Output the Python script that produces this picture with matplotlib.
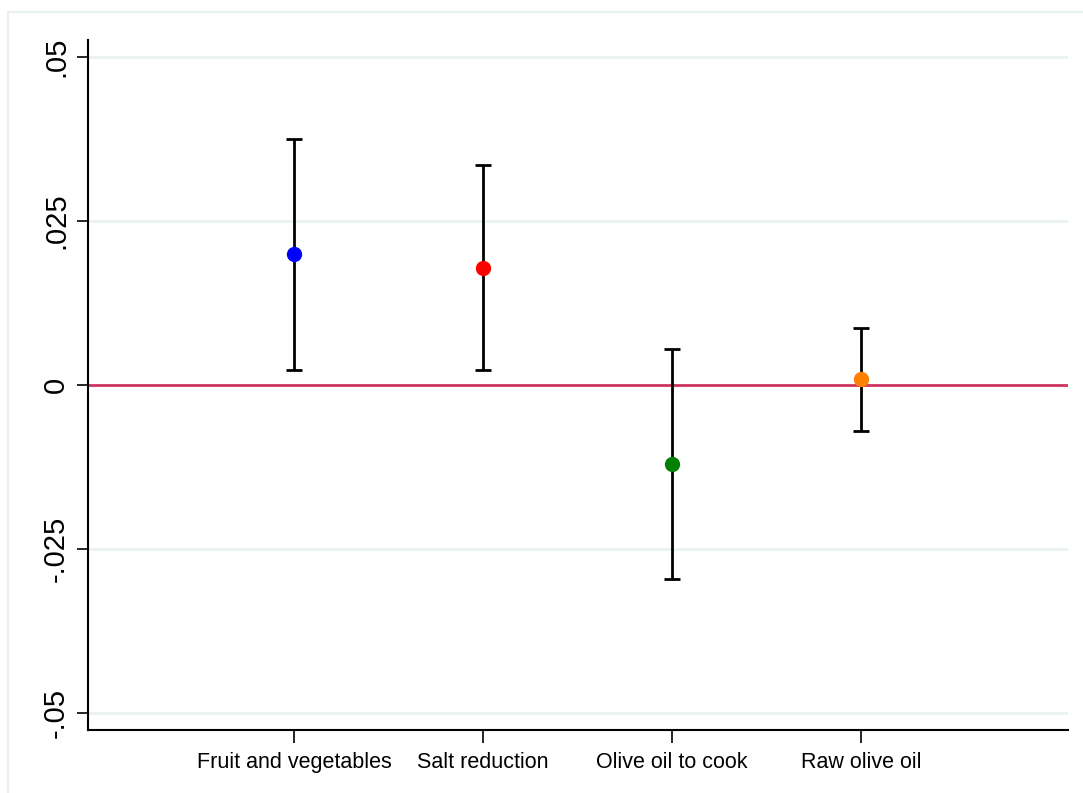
import numpy as np
import matplotlib
matplotlib.use("Agg")
import matplotlib.pyplot as plt
from matplotlib.lines import Line2D

plt.rcParams['font.family'] = ['Liberation Sans', 'DejaVu Sans']

# estimates and confidence intervals
categories = ["Fruit and vegetables", "Salt reduction", "Olive oil to cook", "Raw olive oil"]
estimate = [0.0199, 0.0178, -0.0120, 0.0009]
ci_low = [0.0023, 0.0023, -0.0296, -0.0070]
ci_high = [0.0375, 0.0336, 0.0055, 0.0087]
colors = ["#0000ff", "#ff0000", "#008000", "#ff8000"]

yticks = [-0.05, -0.025, 0, 0.025, 0.05]
yticklabels = ["-.05", "-.025", "0", ".025", ".05"]

fig = plt.figure(figsize=(10.83, 7.93), dpi=100)
ax = fig.add_axes([0.0813, 0.0794, 0.9048, 0.8702])

# light outer frame like stata graph region
fig.add_artist(Line2D([0.0074, 1.0], [0.9849, 0.9849], color="#e8eff1", lw=1.5, transform=fig.transFigure))
fig.add_artist(Line2D([0.0074, 0.0074], [0.0, 0.9849], color="#e8eff1", lw=1.5, transform=fig.transFigure))

x = np.arange(1, len(categories) + 1)
for i in range(len(categories)):
    ax.errorbar(x[i], estimate[i],
                yerr=[[estimate[i] - ci_low[i]], [ci_high[i] - estimate[i]]],
                fmt="none", ecolor="black", elinewidth=2, capsize=6, capthick=2, zorder=3)
    ax.plot(x[i], estimate[i], "o", color=colors[i], markersize=10, zorder=4)

ax.axhline(0, color="#d03562", lw=2, zorder=2)

ax.set_xlim(-0.09, 5.095)
ax.set_ylim(-0.0526, 0.0526)
ax.set_yticks(yticks)
ax.set_yticklabels(yticklabels, rotation=90, va="center", fontsize=21)
ax.set_xticks(x)
ax.set_xticklabels(categories, fontsize=15.5)
ax.yaxis.grid(True, color="#eaf2f3", lw=2)
ax.set_axisbelow(True)

for s in ["top", "right"]:
    ax.spines[s].set_visible(False)
ax.spines["left"].set_linewidth(1.5)
ax.spines["bottom"].set_linewidth(1.5)
ax.tick_params(axis="y", length=8, width=1.2, pad=5)
ax.tick_params(axis="x", length=9, width=1.2, pad=7)

fig.savefig("out.png", dpi=100)
